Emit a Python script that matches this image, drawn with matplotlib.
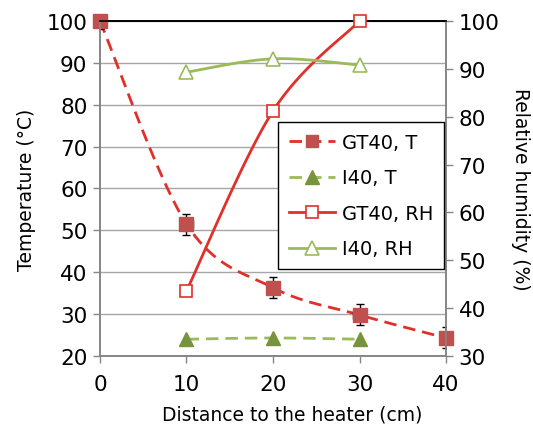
import numpy as np
import matplotlib
matplotlib.use("Agg")
import matplotlib.pyplot as plt
from matplotlib.lines import Line2D

plt.rcParams.update({
    "font.family": "DejaVu Sans",
    "font.size": 14,
})

# Data
dist = [0, 10, 20, 30, 40]
gt40_t = [100, 51.5, 36.3, 29.8, 24.3]
gt40_t_err = [2.0, 2.5, 2.5, 2.5, 2.5]
gt40_x_err = [0.7, 0.7, 0.7, 0.7, 0.7]

dist_i = [10, 20, 30]
i40_t = [24.0, 24.3, 24.0]

gt40_rh = [43.6, 81.2, 100]
i40_rh = [89.3, 92.1, 90.8]

RED_LINE = "#E0302A"
RED_FILL = "#C0504D"
GREEN_LINE = "#9BBB59"
GREEN_FILL = "#77933C"
GRID = "#A6A6A6"
DASH = (0, (4.5, 2.5))


def smooth(x, y, n=40):
    """Excel-like smoothed line (Catmull-Rom, end points repeated)."""
    x = np.asarray(x, float)
    y = np.asarray(y, float)
    px = np.concatenate([[x[0]], x, [x[-1]]])
    py = np.concatenate([[y[0]], y, [y[-1]]])
    xs, ys = [], []
    t = np.linspace(0, 1, n)
    for i in range(1, len(px) - 2):
        for arr, out in ((px, xs), (py, ys)):
            p0, p1, p2, p3 = arr[i - 1], arr[i], arr[i + 1], arr[i + 2]
            seg = 0.5 * ((2 * p1) + (-p0 + p2) * t
                         + (2 * p0 - 5 * p1 + 4 * p2 - p3) * t ** 2
                         + (-p0 + 3 * p1 - 3 * p2 + p3) * t ** 3)
            out.extend(seg)
    return np.array(xs), np.array(ys)


fig = plt.figure(figsize=(5.33, 4.27), dpi=100)
ax = fig.add_axes([0.1876, 0.164, 0.6492, 0.7845])
ax2 = ax.twinx()

ax.set_xlim(0, 40)
ax.set_ylim(20, 100)
ax2.set_ylim(30, 100)
ax.set_xticks([0, 10, 20, 30, 40])
ax.set_yticks(range(20, 101, 10))
ax2.set_yticks(range(30, 101, 10))

for a in (ax, ax2):
    for s in ("left", "right", "bottom"):
        a.spines[s].set_color("#868686")
        a.spines[s].set_linewidth(1.2)
    a.spines["top"].set_color("black")
    a.spines["top"].set_linewidth(1.2)
    a.tick_params(length=5, width=1.0, color="#868686", labelsize=15.5, pad=4)
ax.tick_params(axis="x", pad=8)

ax.grid(axis="y", color=GRID, lw=1.0)
ax.set_axisbelow(True)

# GT40, T
sx, sy = smooth(dist, gt40_t)
ax.plot(sx, sy, color=RED_LINE, lw=2, ls=DASH, zorder=3)
ax.errorbar(dist, gt40_t, yerr=gt40_t_err, xerr=gt40_x_err, fmt="none",
            ecolor="black", elinewidth=1, capsize=3, zorder=4)
ax.plot(dist, gt40_t, ls="none", marker="s", ms=9.5, mfc=RED_FILL,
        mec=RED_FILL, zorder=5, clip_on=False)

# I40, T
sx, sy = smooth(dist_i, i40_t)
ax.plot(sx, sy, color=GREEN_LINE, lw=2, ls=DASH, zorder=3)
ax.plot(dist_i, i40_t, ls="none", marker="^", ms=10.5, mfc=GREEN_FILL,
        mec=GREEN_FILL, zorder=5)

# GT40, RH
sx, sy = smooth(dist_i, gt40_rh)
ax2.plot(sx, sy, color=RED_LINE, lw=2, zorder=3)
ax2.plot(dist_i, gt40_rh, ls="none", marker="s", ms=9, mfc="white",
         mec=RED_LINE, mew=1.2, zorder=5, clip_on=False)

# I40, RH
sx, sy = smooth(dist_i, i40_rh)
ax2.plot(sx, sy, color=GREEN_LINE, lw=2, zorder=3)
ax2.plot(dist_i, i40_rh, ls="none", marker="^", ms=10.5, mfc="white",
         mec=GREEN_LINE, mew=1.2, zorder=5)

ax.set_xlabel("Distance to the heater (cm)", fontsize=13.5)
ax.xaxis.set_label_coords(0.555, -0.145)
ax.set_ylabel("Temperature (°C)", fontsize=13.5, labelpad=8)
ax2.set_ylabel("Relative humidity (%)", fontsize=13.5, rotation=270,
               labelpad=22)

handles = [
    Line2D([], [], color=RED_LINE, lw=2, ls=DASH, marker="s", ms=9,
           mfc=RED_FILL, mec=RED_FILL),
    Line2D([], [], color=GREEN_LINE, lw=2, ls=DASH, marker="^", ms=9.5,
           mfc=GREEN_FILL, mec=GREEN_FILL),
    Line2D([], [], color=RED_LINE, lw=2, marker="s", ms=9, mfc="white",
           mec=RED_LINE, mew=1.2),
    Line2D([], [], color=GREEN_LINE, lw=2, marker="^", ms=9.5, mfc="white",
           mec=GREEN_LINE, mew=1.2),
]
labels = ["GT40, T", "I40, T", "GT40, RH", "I40, RH"]
leg = ax2.legend(handles, labels, loc="upper left",
                 bbox_to_anchor=(0.514, 0.698), fontsize=14, frameon=True,
                 fancybox=False, edgecolor="black", framealpha=1,
                 handlelength=2.4, labelspacing=0.85, borderpad=0.55,
                 handletextpad=0.35, borderaxespad=0)
leg.get_frame().set_linewidth(1.0)
leg.set_zorder(10)

fig.savefig("out.png", dpi=100)
